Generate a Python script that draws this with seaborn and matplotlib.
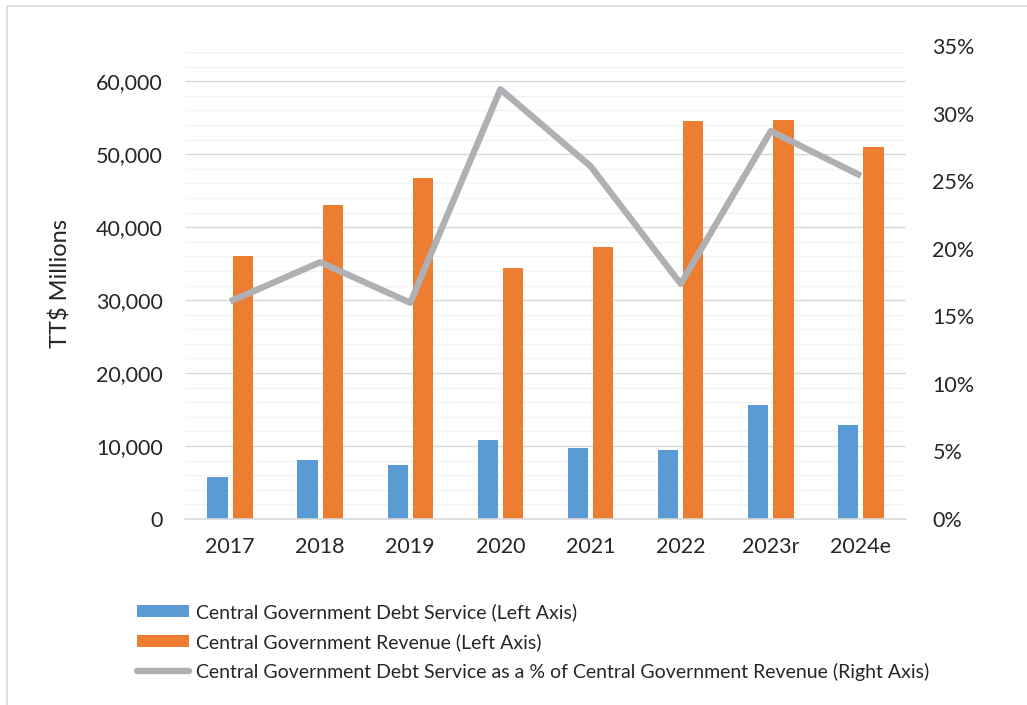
import numpy as np
import pandas as pd
import matplotlib
matplotlib.use("Agg")
import matplotlib.pyplot as plt
from matplotlib.ticker import MultipleLocator, FuncFormatter
from matplotlib.patches import Patch
from matplotlib.lines import Line2D
import seaborn as sns

# Central government figures, TT$ millions
years = ["2017", "2018", "2019", "2020", "2021", "2022", "2023r", "2024e"]
debt_service = [5800, 8130, 7450, 10880, 9700, 9470, 15640, 12900]
revenue = [36100, 43100, 46700, 34400, 37300, 54550, 54700, 51000]
# Debt service as a share of revenue, percent
debt_pct = [16.1, 19.0, 16.0, 31.8, 26.1, 17.4, 28.7, 25.4]

series_labels = [
    "Central Government Debt Service (Left Axis)",
    "Central Government Revenue (Left Axis)",
    "Central Government Debt Service as a % of Central Government Revenue (Right Axis)",
]

BLUE = "#5B9BD5"
ORANGE = "#ED7D31"
GREY = "#AFB0B3"
TEXT = "#262626"

sns.set_theme(style="white")
plt.rcParams["font.family"] = ["Lato", "DejaVu Sans"]
plt.rcParams["text.color"] = TEXT
plt.rcParams["xtick.color"] = TEXT
plt.rcParams["ytick.color"] = TEXT

W, H = 1027, 705
fig = plt.figure(figsize=(W / 100, H / 100), dpi=100)
x0, x1 = 185, 906          # plot area, pixels from the left
base, top_l, top_r = 519, 52, 46   # baseline and tops of the two value scales
ax = fig.add_axes([x0 / W, 1 - base / H, (x1 - x0) / W, (base - top_l) / H])

df = pd.DataFrame({
    "year": years * 2,
    "series": [series_labels[0]] * len(years) + [series_labels[1]] * len(years),
    "value": debt_service + revenue,
})

sns.barplot(data=df, x="year", y="value", hue="series",
            palette=[BLUE, ORANGE], saturation=1, width=0.56, gap=0.2,
            linewidth=0, legend=False, ax=ax, zorder=2)

ax.set_xlim(-0.5, len(years) - 0.5)
ax.set_ylim(0, 64000)
ax.yaxis.set_minor_locator(MultipleLocator(2000))
ax.set_yticks([0, 10000, 20000, 30000, 40000, 50000, 60000])
ax.yaxis.set_major_formatter(FuncFormatter(lambda v, _: f"{v:,.0f}"))
ax.grid(which="major", axis="y", color="#D9D9D9", linewidth=1.0, zorder=0)
ax.grid(which="minor", axis="y", color="#F2F2F2", linewidth=1.0, zorder=0)
ax.set_axisbelow(True)
for side in ["top", "right", "left"]:
    ax.spines[side].set_visible(False)
ax.spines["bottom"].set_color("#D9D9D9")
ax.spines["bottom"].set_linewidth(1.2)
ax.tick_params(axis="both", which="both", length=0, labelsize=15.5)
ax.tick_params(axis="y", pad=16)
ax.tick_params(axis="x", pad=13)
ax.set_xlabel("")
ax.set_ylabel("")

# Percentage scale on the right, sharing the category positions
ax2 = fig.add_axes([x0 / W, 1 - base / H, (x1 - x0) / W, (base - top_r) / H],
                   sharex=ax)
ax2.patch.set_visible(False)
sns.lineplot(x=np.arange(len(years)), y=debt_pct, color=GREY, linewidth=4.6,
             sort=False, ax=ax2, solid_joinstyle="round", solid_capstyle="butt")
ax2.set_ylim(0, 35)
ax2.yaxis.set_major_locator(MultipleLocator(5))
ax2.yaxis.set_major_formatter(FuncFormatter(lambda v, _: f"{v:.0f}%"))
ax2.yaxis.tick_right()
ax2.grid(False)
for side in ["top", "right", "left", "bottom"]:
    ax2.spines[side].set_visible(False)
ax2.tick_params(axis="y", length=0, labelsize=15.5, pad=19)
ax2.tick_params(axis="x", bottom=False, labelbottom=False)
ax2.set_ylabel("")
ax2.set_xlabel("")

fig.text(60 / W, 1 - 283 / H, "TT$ Millions", rotation=90,
         ha="center", va="center", fontsize=17)

handles = [
    Patch(facecolor=BLUE, edgecolor="none"),
    Patch(facecolor=ORANGE, edgecolor="none"),
    Line2D([], [], color=GREY, linewidth=4.6, solid_capstyle="round"),
]
fig.legend(handles, series_labels, loc="upper left",
           bbox_to_anchor=(137 / W, 1 - 603 / H), frameon=False,
           fontsize=14, handlelength=2.68, handleheight=0.62,
           handletextpad=0.36, labelspacing=0.62, borderpad=0,
           borderaxespad=0)

# Light frame along the top and left edges
fig.add_artist(Line2D([7 / W, 1], [1 - 6 / H, 1 - 6 / H],
                      transform=fig.transFigure, color="#D9D9D9", linewidth=1.2))
fig.add_artist(Line2D([7 / W, 7 / W], [0, 1 - 6 / H],
                      transform=fig.transFigure, color="#D9D9D9", linewidth=1.2))

fig.savefig("out.png", dpi=100, facecolor="white")
